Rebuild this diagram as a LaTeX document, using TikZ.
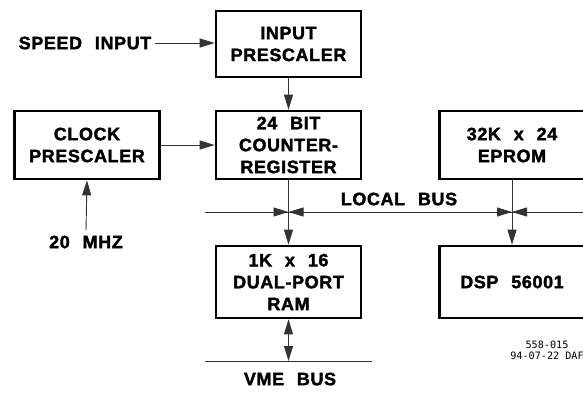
\documentclass[tikz,border=0pt]{standalone}
\usepackage{fontspec}
\newfontfamily\lblfont[LetterSpace=3.5,WordSpace=2.3,BoldFont={Liberation Sans Bold},BoldFeatures={FakeBold=2}]{Liberation Sans}
\newfontfamily\notefont{DejaVu Sans Mono}
\usetikzlibrary{arrows.meta,calc}
\tikzset{
  lbl/.style={font=\lblfont\fontsize{18}{22}\selectfont\bfseries, inner sep=0pt, align=center},
  blk/.style={lbl, draw, line width=2.7bp, minimum width=145bp},
  conn/.style={line width=0.9bp, black!80},
  arr/.style={conn, -{Triangle[length=15bp,width=9bp]}},
  darr/.style={conn, {Triangle[length=15bp,width=9bp]}-{Triangle[length=15bp,width=9bp]}},
}
\begin{document}
\begin{tikzpicture}[x=1bp,y=-1bp]
\useasboundingbox (0,0) rectangle (583,393);
\clip (0,0) rectangle (583,393);
% blocks
\node[blk, minimum height=66bp] (inp) at (288.5,44) {INPUT\\PRESCALER};
\node[blk, minimum height=68bp] (cnt) at (288.5,145) {24 BIT\\COUNTER-\\REGISTER};
\node[blk, minimum height=68bp] (clk) at (87,145) {CLOCK\\PRESCALER};
\node[blk, minimum height=68bp] (eprom) at (512,145) {32K x 24\\EPROM};
\node[blk, minimum height=72bp] (ram) at (288.5,282) {1K x 16\\DUAL-PORT\\RAM};
\node[blk, minimum height=72bp] (dsp) at (512,282) {DSP 56001};
% labels
\node[lbl, inner xsep=4bp] (speed) at (85,43) {SPEED INPUT};
\node[lbl, inner ysep=5bp] (mhz) at (86,242) {20 MHZ};
\node[lbl] (local) at (399,199) {LOCAL BUS};
\node[lbl] (vmelbl) at (290,379) {VME BUS};
\node[font=\notefont\fontsize{10.2}{11}\selectfont, inner sep=0pt, align=center] (note) at (547,350.5) {558-015\\94-07-22 DAF};
% bus coordinates
\coordinate (busL) at (205,212);
\coordinate (busR) at (600,212);
\coordinate (j1) at (288.5,212);
\coordinate (j2) at (512,212);
\coordinate (vmeL) at (205,361);
\coordinate (vmeR) at (372,361);
\coordinate (vme) at (288.5,361);
% connectors
\draw[arr] (speed.east) -- (speed.east -| inp.west);
\draw[arr] (inp.south) -- (cnt.north);
\draw[arr] (clk.east) -- (cnt.west);
\draw[arr] (mhz.north) -- (clk.south);
\draw[conn] (busL) -- (busR);
\draw[conn] (vmeL) -- (vmeR);
\draw[arr] (cnt.south) -- (ram.north);
\draw[arr] (eprom.south) -- (dsp.north);
\draw[arr] ([xshift=-17bp]j1) -- (j1);
\draw[arr] ([xshift=17bp]j1) -- (j1);
\draw[arr] ([xshift=-17bp]j2) -- (j2);
\draw[arr] ([xshift=17bp]j2) -- (j2);
\draw[darr] (ram.south) -- (vme);
\end{tikzpicture}
\end{document}
